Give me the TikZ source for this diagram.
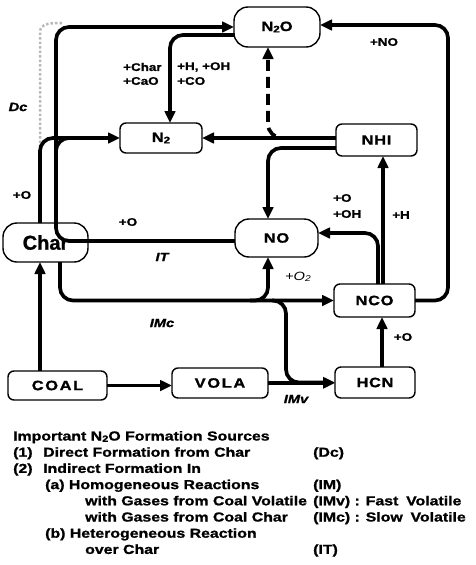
\documentclass[tikz,border=0pt]{standalone}
\usepackage{fontspec}
\setmainfont{Liberation Sans}[FakeStretch=1.22, BoldFeatures={FakeBold=1.2}, BoldItalicFeatures={FakeBold=1.2}]
\newfontfamily\plainsans{Liberation Sans}[BoldFeatures={FakeBold=1.2}]
\usepackage{graphicx}
\usetikzlibrary{arrows.meta}
\newcommand\lowtwo{\raisebox{-0.1em}{\scalebox{0.7}{2}}}
\newcommand\bxfont{\fontsize{13.5}{15}\selectfont\bfseries\addfontfeature{LetterSpace=5}}
\newcommand\smfont{\fontsize{11}{12}\selectfont\bfseries}
\newcommand\itlfont{\fontsize{12}{14}\selectfont\bfseries\itshape}
\newcommand\txfont{\fontsize{13}{16}\selectfont\bfseries}
\begin{document}
\begin{tikzpicture}[x=1pt,y=-1pt,
  box/.style={draw, line width=1.4pt, rounded corners=6pt, inner sep=0pt, outer sep=0pt, font=\bxfont},
  bigbox/.style={box, rounded corners=14pt},
  conn/.style={line width=3.7pt, rounded corners=13pt},
  arr/.style={-{Triangle[length=12pt,width=10.5pt]}},
  lab/.style={font=\smfont, inner sep=0pt},
  itl/.style={font=\itlfont, inner sep=0pt},
  txt/.style={font=\txfont, inner sep=0pt, anchor=base west}]
\useasboundingbox (0,0) rectangle (475,565);

% nodes
\node[bigbox, minimum width=86pt, minimum height=40pt] (n2o) at (277,27) {N\lowtwo O};
\node[box, minimum width=82pt, minimum height=30pt] (n2) at (161,138) {N\lowtwo};
\node[box, minimum width=81pt, minimum height=32pt] (nhi) at (376.5,140) {NHI};
\node[bigbox, minimum width=83pt, minimum height=38pt] (no) at (276.5,238) {NO};
\node[bigbox, minimum width=85pt, minimum height=39pt, font=\plainsans\fontsize{20}{22}\selectfont\bfseries] (char) at (45.5,242.5) {Char};
\node[box, minimum width=81pt, minimum height=33pt] (nco) at (374.5,300.5) {NCO};
\node[box, minimum width=99pt, minimum height=29pt, font=\bxfont\addfontfeature{LetterSpace=12}] (coal) at (57.5,385.5) {COAL};
\node[box, minimum width=96pt, minimum height=30pt, font=\bxfont\addfontfeature{LetterSpace=12}] (vola) at (220,383) {VOLA};
\node[box, minimum width=80pt, minimum height=31pt] (hcn) at (375,382.5) {HCN};

% shadow artefact
\draw[gray!55, line width=2.5pt, dotted] (62,23) to[out=180,in=90] (40,32) -- (40,150);

% connectors
\draw[conn,arr] ([yshift=-3pt]no.west) -- (56,241) -- (56,27) -- (n2o.west);
\draw[conn,arr] ([xshift=-5.5pt]char.north) -- (40,138) -- (n2.west);
\draw[conn] (56,168) -- (56,138) -- (80,138);
\draw[conn,arr] ([yshift=-8pt]n2o.west) -| ([xshift=9pt]n2.north);
\draw[conn,arr] (nhi.west |- n2.east) -- (n2.east);
\draw[line width=3.7pt, dash pattern=on 11pt off 6pt, rounded corners=14pt, arr] (292,138) -- (268,138) -- ([xshift=-9pt]n2o.south);
\draw[conn,arr] ([yshift=-8pt]nhi.west) -| ([xshift=-8.5pt]no.north);
\draw[conn,arr] ([xshift=8.5pt]nco.north) -- ([xshift=8.5pt]nco.north |- nhi.south);
\draw[conn,arr] ([xshift=3.5pt]nco.north) |- ([yshift=5pt]no.east);
\draw[conn,arr] (nco.east) -- (448,300.5) -- (448,25) -- ([yshift=2pt]n2o.east);
\draw[conn,arr] ([xshift=14.5pt]char.south) |- (nco.west);
\draw[conn,arr] (250,300.5) -| ([xshift=-8.5pt]no.south);
\draw[conn,arr] (272,300.5) -- (286,300.5) -- (286,382.5) -- (hcn.west);
\draw[conn,arr] ([xshift=-17.5pt]coal.north) -- ([xshift=-5.5pt]char.south);
\draw[conn,arr] (coal.east) -- (coal.east -| vola.west);
\draw[conn,arr] (vola.east) -- (vola.east -| hcn.west);
\draw[conn,arr] ([xshift=7pt]hcn.north) -- ([xshift=7pt]hcn.north |- nco.south);

% labels
\node[lab, anchor=west] (l1) at (123,67) {+Char};
\node[lab, anchor=west] (l2) at (123,81) {+CaO};
\node[lab, anchor=west] (l3) at (177,67) {+H, +OH};
\node[lab, anchor=west] (l4) at (177,81) {+CO};
\node[lab] (l5) at (384,42) {+NO};
\node[itl] (l6) at (18,107) {Dc};
\node[lab] (l7) at (22,195) {+O};
\node[lab] (l8) at (128,222) {+O};
\node[itl] (l9) at (162,257) {IT};
\node[itl] (l10) at (162,323) {IMc};
\node[itl] (l11) at (296,399) {IMv};
\node[inner sep=0pt, font=\fontsize{12}{14}\selectfont\itshape] (l12) at (298,277) {+O\lowtwo};
\node[lab, anchor=west] (l13) at (333,198) {+O};
\node[lab, anchor=west] (l14) at (333,214) {+OH};
\node[lab] (l15) at (401,215) {+H};
\node[lab] (l16) at (403,337) {+O};

% legend text
\node[txt] (t1) at (13,440.5) {Important N\lowtwo O Formation Sources};
\node[txt] (t2a) at (13,456.7) {(1)};
\node[txt] (t2) at (43,456.7) {Direct Formation from Char};
\node[txt] (t3a) at (13,472.9) {(2)};
\node[txt] (t3) at (43,472.9) {Indirect Formation In};
\node[txt] (t4) at (45,489.1) {(a) Homogeneous Reactions};
\node[txt] (t5) at (85,505.3) {with Gases from Coal Volatile};
\node[txt] (t6) at (85,521.5) {with Gases from Coal Char};
\node[txt] (t7) at (45,537.7) {(b) Heterogeneous Reaction};
\node[txt] (t8) at (85,553.9) {over Char};
\node[txt] (r1) at (313,456.7) {(Dc)};
\node[txt] (r2) at (313,489.1) {(IM)};
\node[txt] (r3) at (313,505.3) {(IMv) : Fast\hspace{0.6em}Volatile};
\node[txt] (r4) at (313,521.5) {(IMc) : Slow\hspace{0.6em}Volatile};
\node[txt] (r5) at (313,553.9) {(IT)};
\end{tikzpicture}
\end{document}
